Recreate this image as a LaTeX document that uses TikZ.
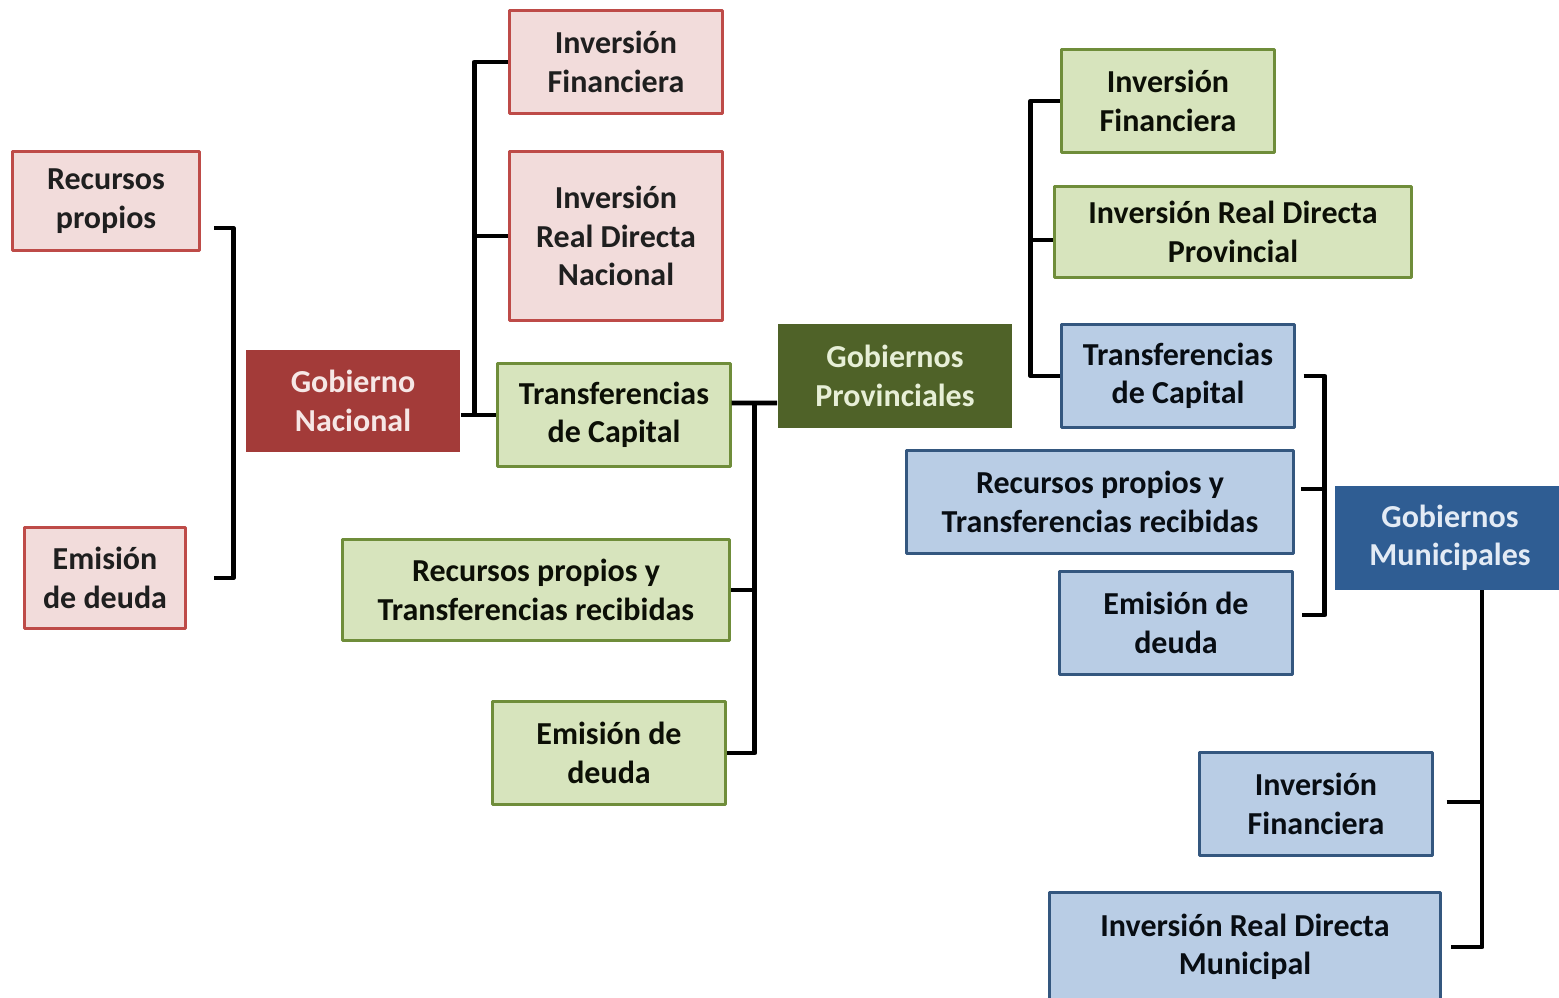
\documentclass[tikz,border=0pt]{standalone}
\usepackage{fontspec}
\setmainfont{Carlito}
\definecolor{natfill}{HTML}{F2DCDB}
\definecolor{natline}{HTML}{BE4B48}
\definecolor{natdark}{HTML}{A33B39}
\definecolor{provfill}{HTML}{D7E4BD}
\definecolor{provline}{HTML}{6F8D3A}
\definecolor{provdark}{HTML}{4F6228}
\definecolor{munfill}{HTML}{B9CDE5}
\definecolor{munline}{HTML}{34577F}
\definecolor{mundark}{HTML}{2F5D93}
\begin{document}
\begin{tikzpicture}[x=0.01cm,y=-0.01cm,line join=round,
    font=\fontsize{9.1}{10.9}\selectfont\bfseries,
    box/.style={draw,line width=0.85pt,align=center,inner sep=0pt},
    natbox/.style={box,fill=natfill,draw=natline,text=black!88},
    provbox/.style={box,fill=provfill,draw=provline,text=black!85!provdark},
    munbox/.style={box,fill=munfill,draw=munline,text=black!85!munline},
    head/.style={inner sep=0pt,align=center},
    link/.style={line width=1.4pt}]
	\useasboundingbox (0,0) rectangle (1559,998);
	\clip (0,0) rectangle (1559,998);
	\node[natbox,minimum width=1.87cm,minimum height=0.99cm] (rp) at (106,201) {Recursos\\propios};
	\node[natbox,minimum width=1.61cm,minimum height=1.00cm] (edl) at (105,578) {Emisión\\de deuda};
	\node[natbox,minimum width=2.13cm,minimum height=1.03cm] (nif) at (616,62) {Inversión\\Financiera};
	\node[natbox,minimum width=2.13cm,minimum height=1.69cm] (nird) at (616,236) {Inversión\\Real Directa\\Nacional};
	\node[head,fill=natdark,text=natfill!70!white,minimum width=2.14cm,minimum height=1.01cm] (gn) at (353,401) {Gobierno\\Nacional};
	\node[provbox,minimum width=2.32cm,minimum height=1.02cm] (ntc) at (614,415) {Transferencias\\de Capital};
	\node[provbox,minimum width=3.87cm,minimum height=1.00cm] (prt) at (536,590) {Recursos propios y\\Transferencias recibidas};
	\node[provbox,minimum width=2.33cm,minimum height=1.02cm] (ped) at (609,753) {Emisión de\\deuda};
	\node[head,fill=provdark,text=provfill!60!white,minimum width=2.34cm,minimum height=1.04cm] (gp) at (895,376) {Gobiernos\\Provinciales};
	\node[provbox,minimum width=2.13cm,minimum height=1.02cm] (pif) at (1168,101) {Inversión\\Financiera};
	\node[provbox,minimum width=3.56cm,minimum height=0.90cm] (pird) at (1233,232) {Inversión Real Directa\\Provincial};
	\node[munbox,minimum width=2.32cm,minimum height=1.02cm] (ptc) at (1178,376) {Transferencias\\de Capital};
	\node[munbox,minimum width=3.87cm,minimum height=1.02cm] (mrt) at (1100,502) {Recursos propios y\\Transferencias recibidas};
	\node[munbox,minimum width=2.32cm,minimum height=1.02cm] (med) at (1176,623) {Emisión de\\deuda};
	\node[head,fill=mundark,text=munfill!40!white,minimum width=2.30cm,minimum height=1.03cm] (gm) at (1450,538) {Gobiernos\\Municipales};
	\node[munbox,minimum width=2.32cm,minimum height=1.03cm] (mif) at (1316,804) {Inversión\\Financiera};
	\node[munbox,minimum width=3.90cm,minimum height=1.08cm] (mird) at (1245,947) {Inversión Real Directa\\Municipal};
	\coordinate (nspine) at ([xshift=-.22cm]ntc.west);
	\coordinate (pspine) at ([xshift=.23cm,yshift=.12cm]ntc.east);
	\coordinate (qspine) at ([xshift=-.29cm]pif.west);
	\coordinate (mspine) at ([xshift=.29cm]ptc.east);
	\coordinate (mrtend) at ([xshift=.06cm,yshift=.13cm]mrt.east);
	\coordinate (gspine) at ([xshift=.32cm]gm.south);
	\coordinate (mifend) at ([xshift=.13cm,yshift=.02cm]mif.east);
	\draw[link] ([xshift=.13cm,yshift=-.27cm]rp.east) -| ([xshift=.46cm]edl.east) -- ([xshift=.27cm]edl.east);
	\draw[link] (gn.east |- ntc.west) -- (ntc.west);
	\draw[link] (nspine) |- (nif.west);
	\draw[link] (nspine |- nird.west) -- (nird.west);
	\draw[link] ([yshift=.12cm]ntc.east) -- ([yshift=-.27cm]gp.west);
	\draw[link] (pspine) |- (ped.east);
	\draw[link] (pspine |- prt.east) -- (prt.east);
	\draw[link] (pif.west) -- (qspine) |- (ptc.west);
	\draw[link] ([yshift=-.08cm]qspine |- pird.west) -- ([yshift=-.08cm]pird.west);
	\draw[link] ([xshift=.08cm]ptc.east) -- (mspine) |- ([xshift=.08cm,yshift=.08cm]med.east);
	\draw[link] (mrtend) -- (mspine |- mrtend);
	\draw[link] (gspine) |- ([xshift=.09cm]mird.east);
	\draw[link] (mifend) -- (gspine |- mifend);
\end{tikzpicture}
\end{document}
